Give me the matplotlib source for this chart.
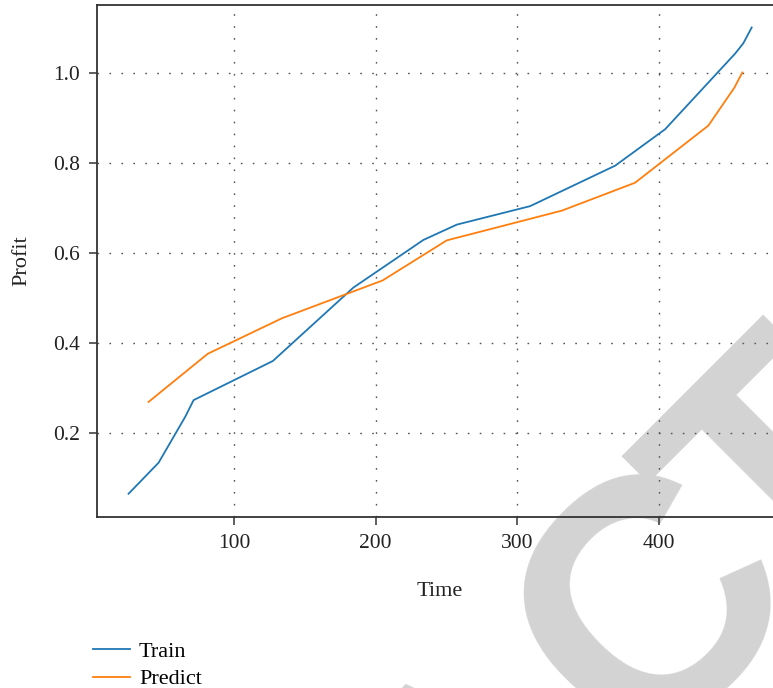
import matplotlib
matplotlib.use("Agg")
import matplotlib.pyplot as plt
from matplotlib.transforms import IdentityTransform

train_x = [25.6, 46.8, 65.6, 71.5, 127.5, 184.3, 233.8, 257.4, 309.1, 369.2, 404.5, 453.9, 459.7, 465.6]
train_y = [0.066, 0.135, 0.237, 0.274, 0.361, 0.524, 0.630, 0.664, 0.705, 0.795, 0.876, 1.044, 1.067, 1.102]
pred_x = [39.7, 81.5, 134.0, 205.0, 250.3, 331.5, 383.2, 435.0, 453.3, 459.0]
pred_y = [0.270, 0.377, 0.456, 0.540, 0.629, 0.695, 0.757, 0.884, 0.968, 1.002]
x_ticks = [100, 200, 300, 400]
y_ticks = [0.2, 0.4, 0.6, 0.8, 1.0]
series_labels = ["Train", "Predict"]

plt.rcParams['font.family'] = ['Liberation Serif', 'DejaVu Serif']
FS_TICK = 15.5
FS = 16
W, H = 773, 688
fig = plt.figure(figsize=(W / 100, H / 100), dpi=100)

# watermark pieces (pixel coords, origin bottom-left)
wm = dict(transform=IdentityTransform(), fontsize=245, family='Liberation Sans',
          weight='bold', color='#d3d3d3', rotation=45, rotation_mode='anchor',
          va='baseline', zorder=-1)
fig.text(632, H - 766, "RETRA", ha='right', **wm)
fig.text(723, H - 675, "C", ha='center', **wm)
fig.text(783, H - 622, "TED", ha='left', **wm)

ax = fig.add_axes([97 / W, 1 - 517 / H, (782 - 97) / W, (517 - 5) / H])
ax.patch.set_alpha(0)
ax.plot(train_x, train_y, color='#1f77b4', lw=1.3, label=series_labels[0])
ax.plot(pred_x, pred_y, color='#ff7f0e', lw=1.3, label=series_labels[1])

ax.set_xlim(3.3, 487)
ax.set_ylim(0.0143, 1.152)
ax.set_xticks(x_ticks)
ax.set_yticks(y_ticks)
ax.set_xticklabels([str(t) for t in x_ticks], fontsize=FS_TICK, color='#222222')
ax.set_yticklabels([f"{t:.1f}" for t in y_ticks], fontsize=FS_TICK, color='#222222')
ax.tick_params(direction='out', length=6, width=1.1, color='#333333', pad=6)
ax.grid(True, linestyle=(0, (1.2, 7.4)), color='#555555', lw=1.0)
for s in ax.spines.values():
    s.set_color('#333333')
    s.set_linewidth(1.3)

ax.set_xlabel("Time", fontsize=FS, labelpad=21, color='#222222')
ax.set_ylabel("Profit", fontsize=FS, labelpad=16, color='#222222')

fig.legend(loc='upper left', bbox_to_anchor=(93 / W, 1 - 641 / H), frameon=False,
           fontsize=FS, handlelength=1.65, handletextpad=0.42, labelspacing=0.33,
           borderpad=0, borderaxespad=0)

fig.savefig("out.png", dpi=100)
